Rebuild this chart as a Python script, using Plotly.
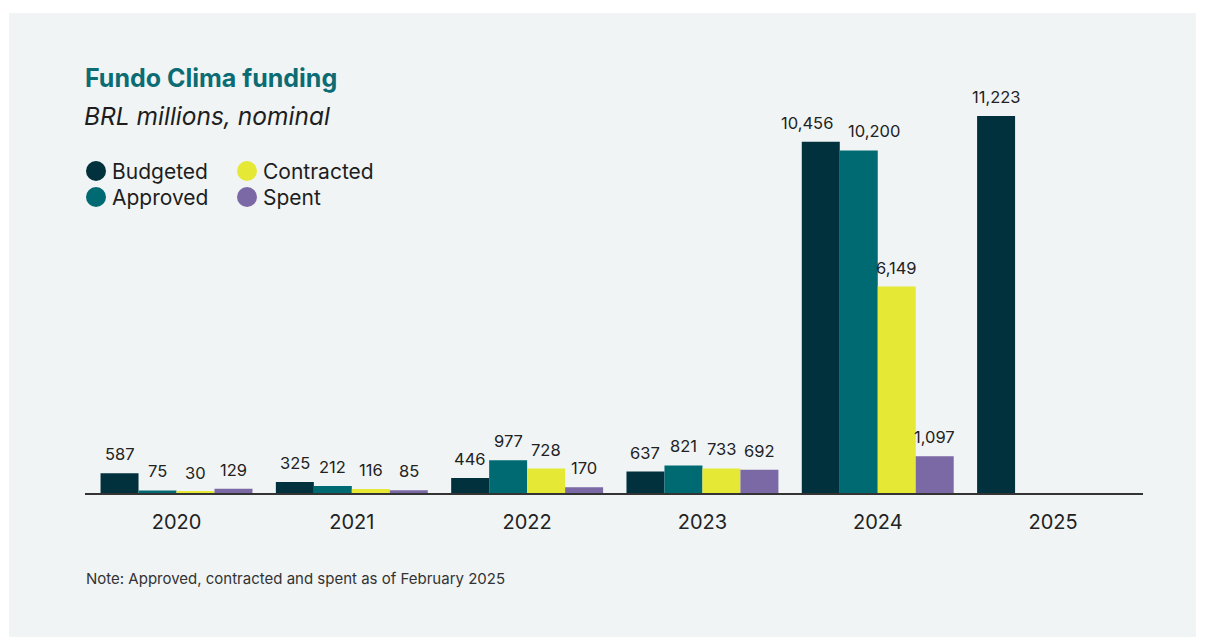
import plotly.graph_objects as go

years = ["2020", "2021", "2022", "2023", "2024", "2025"]
budgeted = [587, 325, 446, 637, 10456, 11223]
approved = [75, 212, 977, 821, 10200, None]
contracted = [30, 116, 728, 733, 6149, None]
spent = [129, 85, 170, 692, 1097, None]

series_names = ["Budgeted", "Approved", "Contracted", "Spent"]
series_values = [budgeted, approved, contracted, spent]
colors = ["#00313c", "#006a72", "#e5e935", "#7b69a6"]

# horizontal nudges (px) for labels that would collide: (series index, year index)
label_nudge = {(0, 4): -14, (1, 4): 15}

W, H = 1205, 637
L, R, T, B = 85, 62, 90, 144
plot_w = W - L - R
plot_h = H - T - B
x_range = [-0.522, 5.513]
bargap = 0.1334
bar_px = plot_w / (x_range[1] - x_range[0]) * (1 - bargap) / 4


def px_x(p):
    return (p - L) / plot_w


def px_y(p):
    return (H - B - p) / plot_h


fig = go.Figure()
for i, (name, vals, col) in enumerate(zip(series_names, series_values, colors)):
    fig.add_trace(go.Bar(x=years, y=vals, name=name, marker=dict(color=col, line=dict(width=0)),
                         showlegend=False, hoverinfo="skip"))

annotations = []
for i, vals in enumerate(series_values):
    for j, v in enumerate(vals):
        if v is None:
            continue
        annotations.append(dict(x=j, y=v, xref="x", yref="y", text=f"{v:,}", showarrow=False,
                                xshift=(i - 1.5) * bar_px + label_nudge.get((i, j), 0), yshift=7,
                                yanchor="bottom",
                                font=dict(family="Inter", size=16.5, color="#222222")))

annotations += [
    dict(text="<b>Fundo Clima funding</b>", xref="paper", yref="paper", x=px_x(83),
         y=px_y(78), xanchor="left", yanchor="middle", showarrow=False,
         font=dict(family="Inter", size=25, color="#0b6c73")),
    dict(text="<i>BRL millions, nominal</i>", xref="paper", yref="paper", x=px_x(82),
         y=px_y(116), xanchor="left", yanchor="middle", showarrow=False,
         font=dict(family="Inter", size=24.5, color="#1e1e1e")),
    dict(text="Note: Approved, contracted and spent as of February 2025", xref="paper", yref="paper",
         x=px_x(84), y=px_y(578), xanchor="left", yanchor="middle", showarrow=False,
         font=dict(family="Inter", size=15, color="#333333")),
]

shapes = [dict(type="rect", xref="paper", yref="paper", layer="below",
               x0=px_x(9), x1=px_x(1196), y0=px_y(640), y1=px_y(13),
               fillcolor="#f0f4f5", line=dict(width=0))]

# legend: two columns, circle + label
legend_pos = {"Budgeted": (96, 171), "Approved": (96, 197), "Contracted": (247, 171), "Spent": (247, 197)}
for name, col in zip(series_names, colors):
    cx, cy = legend_pos[name]
    shapes.append(dict(type="circle", xref="paper", yref="paper",
                       x0=px_x(cx - 10), x1=px_x(cx + 10), y0=px_y(cy + 10), y1=px_y(cy - 10),
                       fillcolor=col, line=dict(width=0)))
    annotations.append(dict(text=name, xref="paper", yref="paper", x=px_x(cx + 14), y=px_y(cy),
                            xanchor="left", yanchor="middle", showarrow=False,
                            font=dict(family="Inter", size=21, color="#1e1e1e")))

fig.update_layout(
    width=W, height=H,
    margin=dict(l=L, r=R, t=T, b=B),
    paper_bgcolor="white",
    plot_bgcolor="rgba(0,0,0,0)",
    barmode="group", bargap=bargap, bargroupgap=0,
    font=dict(family="Inter", color="#222222"),
    showlegend=False,
    xaxis=dict(type="category", range=x_range, showgrid=False, showline=True,
               linecolor="#333333", linewidth=2,
               tickfont=dict(family="Inter", size=20, color="#222222"), ticks="",
               ticklabelstandoff=10, fixedrange=True),
    yaxis=dict(range=[0, 12000], visible=False, fixedrange=True),
    annotations=annotations,
    shapes=shapes,
)

fig.write_html("out.html")
